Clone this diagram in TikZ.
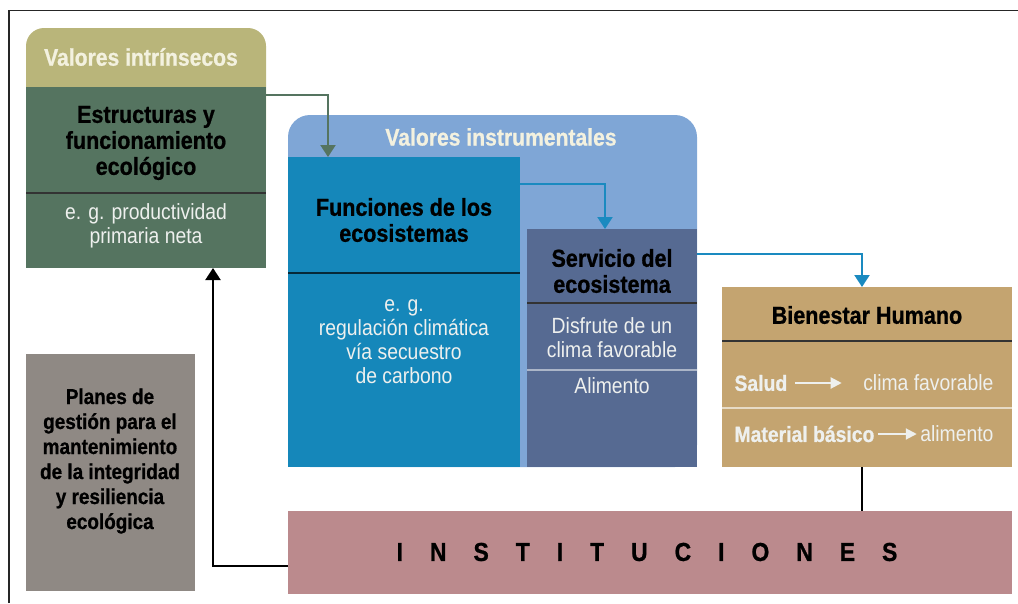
\documentclass[tikz,border=0pt]{standalone}
\usepackage{fontspec}
\setmainfont{Liberation Sans}[FakeStretch=0.88,BoldFeatures={FakeBold=0.8}]
\usetikzlibrary{arrows.meta,positioning}
\definecolor{intrhead}{HTML}{B9B57A}
\definecolor{estrgreen}{HTML}{557460}
\definecolor{instrblue}{HTML}{7FA6D6}
\definecolor{funcblue}{HTML}{1587BA}
\definecolor{servblue}{HTML}{566A92}
\definecolor{bientan}{HTML}{C4A470}
\definecolor{instpink}{HTML}{BB8A8D}
\definecolor{plangray}{HTML}{8F8984}
\definecolor{headtext}{HTML}{F3F1DF}
\definecolor{lighttext}{HTML}{EEF0EE}
\definecolor{arrowblue}{HTML}{1A8AC0}
\begin{document}
\begin{tikzpicture} [
                x=1pt, y=-1pt,
                box/.style={anchor=north west,inner sep=0pt,outer sep=0pt,draw=none},
                header/.style={text=headtext,font=\bfseries\fontsize{24}{26}\selectfont},
                title/.style={align=center,font=\bfseries\fontsize{24.5}{26}\selectfont},
                body/.style={align=center,text=lighttext,font=\fontsize{22}{24}\selectfont},
                rule/.style={line width=1.3pt},
                flow/.style={line width=2.2pt,-{Triangle[width=15pt,length=12pt]}},
                white flow/.style={line width=2pt,lighttext,-{Triangle[width=11pt,length=11pt]}},
            ]
            \useasboundingbox (0,0) rectangle (1018,603);
            \draw[line width=1.5pt,black!85] (9,603) -- (9,10.5) -- (1018,10.5);
            % rounded backgrounds
            \node[box,fill=intrhead,rounded corners=18pt,minimum width=240pt,minimum height=120pt] (intr) at (26,28) {};
            \node[box,fill=instrblue,rounded corners=22pt,minimum width=409pt,minimum height=352pt] (instr) at (288,115) {};
            \foreach \pos/\w/\h/\col/\name in {
                    {(26,87)/240/181/estrgreen/estr}, {(288,157)/232/310/funcblue/func},
                    {(527,229)/170/238/servblue/serv}, {(722,287)/290/180/bientan/bien},
                    {(288,511)/724/83/instpink/inst}, {(26,354)/169/237/plangray/plan}}
                \node[box,fill=\col,minimum width=\w pt,minimum height=\h pt] (\name) at \pos {};
            % dividers
            \draw[rule,black!80] ([yshift=-106pt]estr.north west) -- ([yshift=-106pt]estr.north east);
            \draw[rule,black!70!funcblue] ([yshift=-116pt]func.north west) -- ([yshift=-116pt]func.north east);
            \draw[rule,black!80] ([yshift=-74pt]serv.north west) -- ([yshift=-74pt]serv.north east);
            \draw[rule,servblue!50!white] ([yshift=-141pt]serv.north west) -- ([yshift=-141pt]serv.north east);
            \draw[rule,black!80] ([yshift=-54pt]bien.north west) -- ([yshift=-54pt]bien.north east);
            \draw[rule,bientan!40!white] ([yshift=-121pt]bien.north west) -- ([yshift=-121pt]bien.north east);
            % texts
            \node[header] (intrlabel) at (141,57) {Valores intrínsecos};
            \node[header] (instrlabel) at (501,137) {Valores instrumentales};
            \node[title] (estrtitle) at (146,143) {Estructuras y\\funcionamiento\\ecológico};
            \node[body] (estrbody) at (146,226) {e. g. productividad\\primaria neta};
            \node[title] (functitle) at (404,220) {Funciones de los\\ecosistemas};
            \node[body] (funcbody) at (404,342) {e. g.\\regulación climática\\vía secuestro\\de carbono};
            \node[title] (servtitle) at (612,271) {Servicio del\\ecosistema};
            \node[body] (servclima) at (612,338) {Disfrute de un\\clima favorable};
            \node[body] (servalim) at (612,386) {Alimento};
            \node[title] (bientitle) at (867,315) {Bienestar Humano};
            \node[body,anchor=west,font=\bfseries\fontsize{22}{24}\selectfont] (salud) at (731,383) {Salud};
            \node[body,anchor=east] (clima) at (997,383) {clima favorable};
            \node[body,anchor=west,font=\bfseries\fontsize{22}{24}\selectfont] (mat) at (731,434) {Material básico};
            \node[body,anchor=east] (alim) at (997,434) {alimento};
            \node[title,font=\bfseries\fontsize{26}{26}\selectfont] (insttext) at (647,552) {\spaceskip=27pt I N S T I T U C I O N E S};
            \node[title,font=\bfseries\fontsize{21.5}{25}\selectfont] (plantext) at (110,461) {Planes de\\gestión para el\\mantenimiento\\de la integridad\\y resiliencia\\ecológica};
            % connectors
            \draw[white flow,shorten <=4pt,shorten >=18pt] (salud) -- (clima);
            \draw[white flow] (mat) -- (alim);
            \draw[flow,estrgreen] ([yshift=-8pt]estr.north east) -| ([xshift=40pt]func.north west);
            \draw[flow,arrowblue] ([yshift=-27pt]func.north east) -| ([xshift=78pt]serv.north west);
            \draw[flow,arrowblue] ([yshift=-25pt]serv.north east) -| ([xshift=140pt]bien.north west);
            \draw[line width=2pt] ([xshift=140pt]bien.south west) -- ([xshift=140pt]bien.south west |- inst.north);
            \draw[flow,black] ([yshift=-55pt]inst.north west) -| ([xshift=-53pt]estr.south east);
        \end{tikzpicture}
\end{document}
